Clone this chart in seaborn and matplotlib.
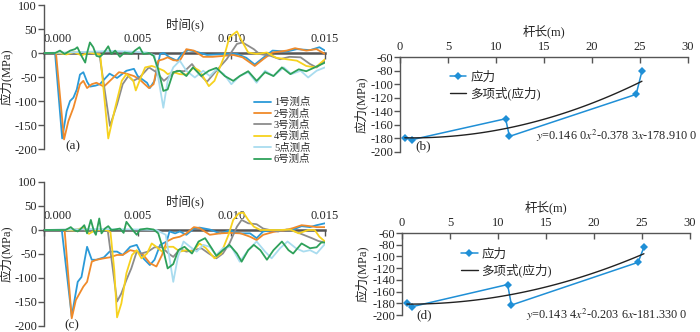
import numpy as np
import pandas as pd
import matplotlib
matplotlib.use("Agg")
import matplotlib.pyplot as plt
import seaborn as sns

sns.set_theme(style="white")
plt.rcParams["font.family"] = ["Liberation Serif", "Noto Sans CJK SC", "DejaVu Sans"]
plt.rcParams["mathtext.fontset"] = "stix"
plt.rcParams["axes.unicode_minus"] = False

# ---------------- data ----------------
names = ["1号测点", "2号测点", "3号测点", "4号测点", "5点测点", "6号测点"]
colors = ["#2b9ad8", "#f08a2a", "#8c8c8c", "#f7d21e", "#a9dcef", "#2ea15a"]

# panel (a): time in ms, stress in MPa
a1_t = [0, 0.59, 0.97, 1.21, 1.39, 1.57, 1.75, 1.92, 2.1, 2.3, 2.46, 2.75, 2.98, 3.5, 3.9, 4.4, 4.8, 5.0, 5.5, 5.65,
        5.9, 6.2, 6.4, 6.7, 7.1, 7.4, 7.7, 8.1, 8.7, 9.2, 9.75, 10.3, 10.8, 11.25, 11.7, 12.2, 12.95, 13.5, 14.2, 14.7, 15.0]
a1_v = [0, 0, -178, -121, -100, -93, -76, -45, -40, -60, -70, -68, -65, -43, -52, -37, -33, -48, -62, -73,
        -58, -2, 0, -9, -16, 0, 6, 3, -4, -3, -2, -2, -10, -24, -10, 5, 3, 8, 6, 12, 5]
a2_t = [0, 0.64, 1.07, 1.3, 1.57, 1.92, 2.1, 2.3, 2.55, 2.8, 3.2, 3.52, 4.0, 4.4, 4.8, 5.1, 5.6, 5.85, 6.1, 6.37,
        6.6, 6.9, 7.25, 7.6, 8.0, 8.5, 9.0, 9.6, 10.1, 10.6, 11.25, 11.7, 12.2, 12.95, 13.4, 14.0, 14.55, 15.0]
a2_v = [0, 0, -180, -142, -114, -65, -58, -73, -65, -62, -70, -58, -40, -43, -48, -55, -73, -65, -16, -13,
        -9, -15, -16, 8, 5, -8, -8, -6, -4, -9, -27, -13, 1, 5, 10, 5, 8, -2]
a3_t = [0, 1.0, 2.0, 2.7, 2.95, 3.52, 3.9, 4.2, 4.5, 4.77, 5.1, 5.6, 6.0, 6.4, 6.7, 7.1, 7.5, 7.9, 8.3, 8.7,
        9.2, 9.75, 10.3, 10.6, 11.2, 11.5, 12.1, 12.6, 13.1, 13.7, 14.2, 14.55, 15.0]
a3_v = [0, 0, 1, 0, 0, -152, -107, -65, -48, -58, -51, -30, -40, -58, -48, -37, -38, -23, -44, -60,
        -37, -13, 19, 22, 8, -2, -6, -13, -8, -9, -23, -30, -16]
a4_t = [0, 0.8, 1.2, 1.6, 2.0, 2.4, 2.8, 3.0, 3.43, 3.8, 4.15, 4.4, 4.77, 4.9, 5.1, 5.4, 5.75, 6.0, 6.4, 6.6,
        6.9, 7.25, 7.6, 8.0, 8.3, 8.8, 9.1, 9.6, 9.9, 10.3, 10.55, 10.9, 11.35, 11.9, 12.4, 12.95, 13.5, 14.0, 14.5, 15.0]
a4_v = [0, 0, -3, 2, -5, 1, -2, -3, -178, -114, -58, -44, -58, -78, -58, -30, -27, -30, -37, -44,
        -40, -44, -45, -30, -37, -69, -58, -9, 33, 45, 26, 1, -2, 1, -10, -13, -16, -27, -30, -13]
a5_t = [0, 2.0, 3.5, 4.5, 5.5, 5.9, 6.37, 6.6, 6.9, 7.25, 7.6, 8.05, 8.5, 8.85, 9.2, 9.6, 10.0, 10.45, 10.9, 11.35,
        11.8, 12.25, 12.8, 13.2, 13.7, 14.1, 14.55, 15.0]
a5_v = [0, 2, 4, 3, 1, -5, -114, -58, -30, -16, -37, -51, -37, -48, -34, -44, -65, -48, -40, -62,
        -37, -48, -30, -44, -37, -51, -37, -30]
a6_t = [0, 0.6, 0.85, 1.1, 1.4, 1.65, 1.78, 2.0, 2.2, 2.3, 2.45, 2.63, 2.8, 2.98, 3.15, 3.43, 3.6, 3.8, 4.05, 4.3,
        4.67, 4.85, 5.1, 5.3, 5.6, 5.85, 6.1, 6.37, 6.6, 6.9, 7.25, 7.6, 7.95, 8.4, 8.8, 9.2, 9.65, 10.1, 10.45, 10.9,
        11.35, 11.8, 12.25, 12.7, 13.15, 13.6, 14.0, 14.45, 15.0]
a6_v = [0, 0, 5, -2, 5, 8, 12, -6, -20, 0, 22, 12, -6, -8, -2, 14, -2, 5, -8, 1,
        -2, 5, 12, -2, 0, -6, -34, -79, -76, -40, -37, -48, -30, -48, -37, -31, -48, -58, -48, -38,
        -58, -40, -48, -30, -44, -34, -38, -30, -20]

# panel (c)
c1_t = [0, 0.95, 1.48, 1.66, 1.8, 2.0, 2.3, 2.55, 2.8, 3.2, 3.5, 3.9, 4.2, 4.6, 4.95, 5.3, 5.65, 5.9, 6.2, 6.55,
        6.7, 7.0, 7.25, 7.6, 8.0, 8.3, 8.85, 9.4, 9.9, 10.5, 11.0, 11.35, 11.7, 12.25, 12.8, 13.3, 13.75, 14.2, 14.55, 15.0]
c1_v = [0, 0, -180, -139, -108, -98, -35, -62, -62, -57, -45, -45, -52, -35, -31, -59, -73, -62, -31, -24,
        -3, -7, -3, -10, 3, 5, 1, -7, -1, -7, -7, -17, -3, 0, 0, 1, 8, 6, 10, 14]
c2_t = [0, 1.1, 1.48, 1.7, 1.9, 2.1, 2.3, 2.55, 2.8, 3.2, 3.5, 3.9, 4.2, 4.6, 4.95, 5.3, 5.65, 6.0, 6.3, 6.55,
        6.9, 7.25, 7.6, 8.0, 8.3, 8.85, 9.4, 9.9, 10.5, 11.0, 11.35, 11.7, 12.25, 12.8, 13.3, 13.75, 14.2, 14.55, 15.0]
c2_v = [0, 0, -184, -146, -132, -118, -108, -66, -62, -59, -57, -52, -52, -42, -45, -52, -69, -76, -52, -24,
        -17, -14, -7, 6, 4, -10, -7, -6, -7, -14, -21, -10, -4, -1, 4, 10, 8, 6, 6]
c3_t = [0, 2.0, 3.0, 3.4, 3.9, 4.13, 4.4, 4.66, 4.95, 5.2, 5.55, 5.9, 6.3, 6.65, 6.9, 7.25, 7.6, 8.0, 8.4, 8.8,
        9.2, 9.55, 9.9, 10.3, 10.55, 10.9, 11.35, 11.7, 12.05, 12.5, 12.95, 13.4, 13.85, 14.3, 14.65, 15.0]
c3_v = [0, 1, 0, 0, -149, -132, -104, -80, -45, -49, -45, -36, -36, -49, -56, -40, -45, -42, -38, -49,
        -59, -49, -28, 7, 21, 14, 12, 3, 0, -3, 1, -3, -10, -17, -23, -26]
c4_t = [0, 1.0, 1.6, 2.1, 2.4, 2.75, 3.2, 3.45, 3.55, 3.75, 3.9, 4.13, 4.4, 4.7, 4.95, 5.2, 5.5, 5.75, 6.0, 6.3,
        6.55, 6.9, 7.25, 7.6, 7.95, 8.3, 8.65, 9.1, 9.45, 9.85, 10.1, 10.4, 10.65, 10.9, 11.2, 11.55, 12.1, 12.6, 13.15, 13.6,
        14.1, 14.45, 14.7, 15.0]
c4_v = [0, 0, -1, 5, -8, 0, 1, -2, -5, -83, -182, -153, -90, -52, -42, -59, -49, -28, -35, -45,
        -35, -35, -45, -42, -45, -28, -38, -59, -49, -10, 21, 35, 36, 21, 7, 0, 0, 0, 1, -7,
        0, 0, -14, -24]
c5_t = [0, 3.0, 5.0, 6.0, 6.5, 6.9, 7.15, 7.45, 7.8, 8.15, 8.5, 8.85, 9.2, 9.55, 10.0, 10.45, 10.9, 11.35, 11.8, 12.15,
        12.6, 13.0, 13.45, 13.85, 14.2, 14.55, 15.0]
c5_v = [0, 2, 1, 0, -10, -108, -56, -24, -35, -45, -31, -35, -52, -38, -35, -66, -42, -24, -45, -59,
        -38, -24, -38, -45, -42, -49, -29]
c6_t = [0, 1.15, 1.43, 1.6, 1.8, 1.98, 2.15, 2.3, 2.5, 2.67, 2.77, 2.95, 3.07, 3.25, 3.43, 3.6, 3.78, 4.05, 4.25, 4.4,
        4.67, 4.95, 5.12, 5.5, 5.85, 6.1, 6.37, 6.6, 6.9, 7.17, 7.5, 7.9, 8.25, 8.6, 8.95, 9.2, 9.55, 9.9, 10.3, 10.55,
        10.9, 11.2, 11.55, 11.9, 12.25, 12.7, 13.05, 13.3, 13.75, 14.2, 14.55, 14.8, 15.0]
c6_v = [0, 0, 6, 0, -3, 3, 10, -7, 21, -3, -10, 24, -7, 3, 8, 0, 1, 3, -6, 17,
        3, -10, 1, 3, 1, -7, -42, -80, -71, -42, -35, -49, -24, -17, -38, -54, -42, -31, -49, -66,
        -42, -31, -42, -62, -42, -24, -42, -49, -28, -38, -36, -26, -26]

# panels (b), (d): rod length (m) vs stress (MPa)
b_x = [0.5, 1.2, 11.0, 11.4, 24.6, 25.2]
b_y = [-179, -182, -151, -177, -115, -81]
b_coef = [0.1460, -0.3783, -178.9100]
d_x = [0.5, 1.0, 11.0, 11.4, 24.6, 25.2]
d_y = [-180, -186, -148, -183, -110, -84]
d_coef = [0.1434, -0.2036, -181.3300]
b_eq = r"$y$=0.146 0$x^2$-0.378 3$x$-178.910 0"
d_eq = r"$y$=0.143 4$x^2$-0.203 6$x$-181.330 0"
t_ticks = [0.000, 0.005, 0.010, 0.015]

AX = "#555555"

fig = plt.figure(figsize=(7.0, 3.32), dpi=100)


def px(x0, y0, x1, y1):
    return [x0 / 700, 1 - y1 / 332, (x1 - x0) / 700, (y1 - y0) / 332]


def time_panel(rect, series, label, lpos, legend):
    ax = fig.add_axes(rect)
    rows = []
    for n, (t, v) in zip(names, series):
        rows.append(pd.DataFrame({"t": np.array(t) / 1000.0, "v": v, "s": n}))
    df = pd.concat(rows, ignore_index=True)
    sns.lineplot(data=df, x="t", y="v", hue="s", palette=colors, sort=False,
                 estimator=None, linewidth=1.3, ax=ax, legend=legend, zorder=3)
    ax.set_xlim(0, 0.015)
    ax.set_ylim(-200, 100)
    for s in ["right", "bottom"]:
        ax.spines[s].set_visible(False)
    ax.spines["top"].set_position(("data", 0))
    ax.spines["top"].set_color(AX)
    ax.spines["top"].set_linewidth(1.8)
    ax.spines["top"].set_zorder(2)
    ax.spines["left"].set_color(AX)
    ax.spines["left"].set_linewidth(1.0)
    ax.xaxis.tick_top()
    ax.xaxis.set_label_position("top")
    ax.set_xticks(t_ticks)
    ax.set_xticklabels([f"{v:.3f}" for v in t_ticks])
    ax.get_xticklabels()[0].set_horizontalalignment("left")
    ax.tick_params(axis="x", direction="in", length=4, width=1, color=AX, pad=6, labelsize=9)
    ax.set_yticks(range(-200, 101, 50))
    ax.tick_params(axis="y", direction="out", length=4, width=1, color=AX, pad=1, labelsize=9, left=True)
    ax.set_xlabel("时间(s)", fontsize=9, labelpad=3)
    ax.set_ylabel("应力(MPa)", fontsize=9)
    ax.yaxis.set_label_coords(-0.11, 0.5)
    fig.text(lpos[0], lpos[1], label, fontsize=9.5, ha="center", va="center")
    if legend:
        h, l = ax.get_legend_handles_labels()
        ax.legend(h, l, loc="upper left", bbox_to_anchor=(249 / 700, 1 - 92 / 332),
                  bbox_transform=fig.transFigure, frameon=False, fontsize=7.5,
                  handlelength=1.6, handletextpad=0.3, labelspacing=0.13, borderpad=0)
    return ax


def rod_panel(rect, xs, ys, coef, eq, label, eqpos, legpos, lpos):
    ax = fig.add_axes(rect)
    dfp = pd.DataFrame({"x": xs, "y": ys})
    sns.lineplot(data=dfp, x="x", y="y", sort=False, estimator=None, color="#1f8fd6",
                 marker="D", markersize=4.5, markeredgewidth=0, linewidth=1.1, ax=ax, label="应力")
    xf = np.linspace(xs[0], xs[-1], 100)
    yf = np.polyval(coef, xf)
    sns.lineplot(x=xf, y=yf, color="#222222", linewidth=1.0, ax=ax, label="多项式(应力)")
    ax.set_xlim(0, 30)
    ax.set_ylim(-200, -60)
    for s in ["right", "bottom"]:
        ax.spines[s].set_visible(False)
    for s in ["top", "left"]:
        ax.spines[s].set_color(AX)
        ax.spines[s].set_linewidth(1.0)
    ax.xaxis.tick_top()
    ax.xaxis.set_label_position("top")
    ax.set_xticks(range(0, 31, 5))
    ax.tick_params(axis="x", direction="in", length=4, width=1, color=AX, pad=3, labelsize=9)
    ax.set_yticks(range(-200, -59, 20))
    ax.tick_params(axis="y", direction="out", length=4, width=1, color=AX, pad=1, labelsize=9, left=True)
    ax.set_xlabel("杆长(m)", fontsize=9, labelpad=4)
    ax.set_ylabel("应力(MPa)", fontsize=9)
    ax.yaxis.set_label_coords(lpos, 0.5)
    ax.legend(loc="upper left", bbox_to_anchor=legpos, bbox_transform=fig.transFigure,
              frameon=False, fontsize=9, handlelength=1.3, handletextpad=0.3,
              labelspacing=0.25, borderpad=0)
    fig.text(eqpos[0], eqpos[1], eq, fontsize=8.8, ha="left", va="center")
    fig.text(label[1], label[2], label[0], fontsize=9.5, ha="center", va="center")
    return ax


time_panel(px(44, 5, 325, 149), [(a1_t, a1_v), (a2_t, a2_v), (a3_t, a3_v), (a4_t, a4_v), (a5_t, a5_v), (a6_t, a6_v)],
           "(a)", (73 / 700, 1 - 146 / 332), True)
time_panel(px(44, 182, 325, 326), [(c1_t, c1_v), (c2_t, c2_v), (c3_t, c3_v), (c4_t, c4_v), (c5_t, c5_v), (c6_t, c6_v)],
           "(c)", (72 / 700, 1 - 325 / 332), False)
rod_panel(px(400, 57, 688, 152), b_x, b_y, b_coef, b_eq, ("(b)", 423 / 700, 1 - 146 / 332),
          (536 / 700, 1 - 136 / 332), (444 / 700, 1 - 65 / 332), -0.11)
rod_panel(px(402, 233, 690, 315), d_x, d_y, d_coef, d_eq, ("(d)", 424 / 700, 1 - 315 / 332),
          (526 / 700, 1 - 315 / 332), (455 / 700, 1 - 242 / 332), -0.115)

fig.savefig("out.png", dpi=100)
